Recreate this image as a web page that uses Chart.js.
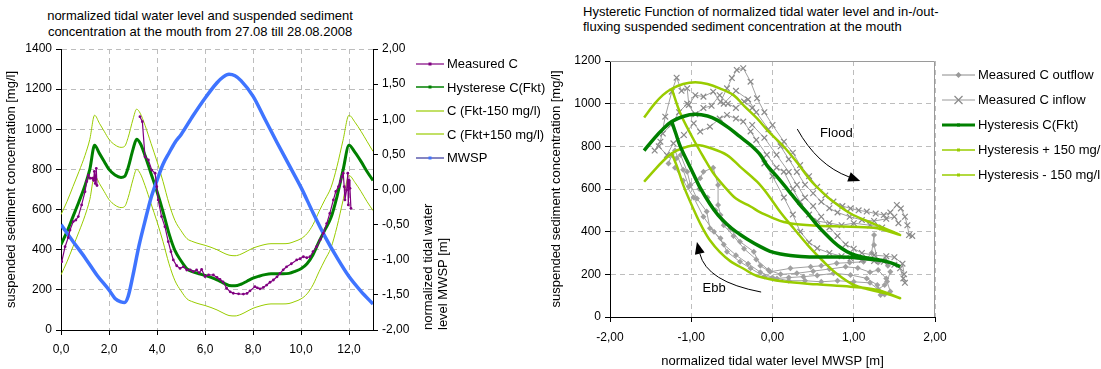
<!DOCTYPE html>
<html>
<head>
<meta charset="utf-8">
<script src="https://cdn.jsdelivr.net/npm/chart.js@4.4.1/dist/chart.umd.min.js"></script>
<style>
  html, body { margin: 0; padding: 0; background: #fff; }
  body { width: 1101px; height: 369px; position: relative; overflow: hidden;
         font-family: "Liberation Sans", Arial, sans-serif; color: #000; }
  canvas { position: absolute; top: 0; }
  #left { left: 0; }
  #right { left: 545px; }
  .title { position: absolute; font-size: 13px; white-space: nowrap; }
  .legend { position: absolute; font-size: 13px; }
  .legend .item { position: absolute; left: 0; white-space: nowrap; height: 15px; line-height: 15px; }
  .legend svg { vertical-align: middle; margin-right: 3px; position: relative; top: -1px; }
  #y1title { position: absolute; left: 420px; top: 330px; transform-origin: 0 0; transform: rotate(-90deg);
             font-size: 13px; line-height: 15px; white-space: nowrap; }
</style>
</head>
<body>
<div class="title" style="left:0;top:8px;width:400px;text-align:center;line-height:16px;">normalized tidal water level and suspended sediment<br>concentration at the mouth from 27.08 till 28.08.2008</div>
<div class="title" style="left:583px;top:4px;line-height:15px;">Hysteretic Function of normalized tidal water level and in-/out-<br>fluxing suspended sediment concentration at the mouth</div>
<canvas id="left" width="545" height="369"></canvas>
<canvas id="right" width="556" height="369"></canvas>
<div id="y1title">normalized tidal water<br>level MWSP [m]</div>
<div class="legend" id="legLeft" style="left:416px;top:56px;"></div>
<div class="legend" id="legRight" style="left:942px;top:67px;width:159px;overflow:hidden;height:125px;"></div>
<script>
// ---- left chart: time series (hours) ----
const measT = [0.03, 0.17, 0.3, 0.375, 0.51, 0.62, 0.72, 0.86, 1.0, 1.07, 1.14, 1.21, 1.31, 1.36, 1.39, 1.43, 1.47, 1.5, 2.4,
  3.29, 3.39, 3.5, 3.64, 3.78, 3.92, 3.99, 4.05, 4.19, 4.33, 4.47, 4.58, 4.68, 4.82, 4.96, 5.1, 5.24, 5.38, 5.51, 5.65,
  5.76, 5.86, 6.0, 6.15, 6.35, 6.5, 6.625, 6.75, 6.9, 7.05, 7.18, 7.4, 7.6, 7.75, 7.875, 8.08, 8.18, 8.29, 8.43, 8.57,
  8.71, 8.85, 9.0, 9.125, 9.26, 9.4, 9.6, 9.82, 9.96, 10.1, 10.24, 10.375, 10.5, 10.65, 10.8, 10.93, 11.07, 11.2, 11.35,
  11.45, 11.56, 11.64, 11.7, 11.76, 11.8, 11.83, 11.9, 11.95, 11.97, 12.0, 12.04, 12.08];
const measC = [340, 415, 460, 498, 540, 548, 565, 623, 689, 740, 772, 756, 756, 745, 790, 730, 805, 720, null,
  1063, 1038, 863, 847, 797, 781, 714, 648, 565, 515, 440, 390, 349, 320, 307, 315, 299, 300, 291, 299,
  285, 302, 266, 275, 274, 262, 252, 240, 208, 190, 183, 180, 179, 182, 195, 216, 210, 205, 212, 224,
  238, 249, 265, 282, 300, 315, 330, 349, 355, 365, 360, 365, 390, 415, 450, 482, 530, 581, 648,
  690, 714, 740, 764, 781, 714, 648, 697, 781, 623, 747, 706, 606];

const hystT = [0, 0.25, 0.5, 0.75, 1.0, 1.2, 1.4, 1.6, 1.8, 2.0, 2.25, 2.5, 2.65, 2.8, 3.0, 3.15, 3.3, 3.5, 3.75, 4.0,
  4.25, 4.5, 4.75, 5.0, 5.25, 5.5, 5.75, 6.0, 6.25, 6.5, 6.75, 7.0, 7.25, 7.5, 7.75, 8.0, 8.25, 8.5, 8.75, 9.0,
  9.25, 9.5, 9.75, 10.0, 10.25, 10.5, 10.75, 11.0, 11.25, 11.5, 11.75, 12.0, 12.25, 12.5, 12.75, 13.0];
const hystC = [425, 490, 565, 640, 720, 800, 920, 880, 840, 800, 772, 760, 765, 810, 900, 950, 930, 870, 780, 690,
  590, 480, 395, 345, 305, 290, 280, 272, 262, 250, 235, 222, 220, 228, 243, 258, 268, 276, 280, 280,
  280, 282, 292, 305, 330, 375, 440, 500, 560, 665, 795, 920, 885, 840, 790, 745];
const bandHiC = [575, 640, 715, 790, 870, 950, 1070, 1030, 990, 950, 922, 910, 915, 960, 1050, 1100, 1080, 1020, 930, 840,
  740, 630, 545, 495, 455, 440, 430, 422, 412, 400, 385, 373, 370, 378, 393, 408, 418, 426, 430, 430,
  430, 432, 442, 455, 480, 525, 590, 650, 710, 815, 945, 1070, 1035, 990, 940, 890];
const bandLoC = [275, 340, 415, 490, 570, 650, 770, 730, 690, 650, 622, 610, 615, 660, 750, 800, 780, 720, 630, 540,
  440, 330, 245, 195, 155, 140, 130, 122, 112, 100, 85, 72, 70, 78, 93, 108, 118, 126, 130, 130,
  130, 132, 142, 155, 180, 225, 290, 350, 410, 515, 645, 770, 735, 690, 640, 595];

const mwspT = [0, 0.5, 1.0, 1.5, 2.0, 2.25, 2.5, 2.65, 2.8, 3.0, 3.25, 3.5, 3.75, 4.0, 4.25, 4.5, 4.75, 5.0, 5.5, 6.0,
  6.5, 6.75, 7.0, 7.25, 7.5, 8.0, 8.5, 9.0, 9.5, 10.0, 10.5, 11.0, 11.5, 12.0, 12.5, 13.0];
const mwspV = [-0.50, -0.74, -0.97, -1.22, -1.43, -1.55, -1.60, -1.61, -1.52, -1.22, -0.80, -0.45, -0.12, 0.13, 0.36, 0.52, 0.67, 0.78, 1.05, 1.30,
  1.52, 1.60, 1.64, 1.62, 1.55, 1.33, 1.00, 0.67, 0.35, 0.03, -0.33, -0.67, -0.97, -1.24, -1.45, -1.63];

// ---- right chart: concentration against water level (null = break in line) ----
const outX = [1.45, 1.41, 1.45, 1.38, 1.33, 1.29, 1.16, 0.96, 0.75, 0.55, 0.38, 0.2, 0.055, -0.1, -0.27, -0.4, -0.56, -0.64,
  -0.77, -0.81, -0.93, -1.01, -1.05, -1.13, -1.18, -1.24, -1.28, null,
  1.42, 1.38, 1.3, 1.25, 1.25, 1.22, 1.12, 0.95, 0.79, 0.6, 0.47, 0.22, -0.03, -0.15, -0.23, -0.4, -0.52, -0.64,
  -0.67, -0.67, -0.73, -0.85, -0.89, -1.03, -1.1, -1.2, null,
  1.4, 1.3, 1.2, 1.05, 0.9, 0.7, 0.5, 0.3, 0.1, -0.05, -0.2, -0.35, -0.48, -0.6, -0.7, -0.8, -0.9, null,
  1.38, 1.3, 1.2, 1.0, 0.8, 0.6, 0.4, 0.2, 0.0, -0.15, -0.3, -0.45, -0.6, -0.72, -0.85, -0.97, -1.1, -1.2];
const outC = [212, 166, 119, 105, 103, 150, 181, 197, 205, 195, 189, 185, 181, 190, 228, 259, 306, 369,
  416, 494, 556, 619, 681, 759, 744, 759, 720, null,
  240, 270, 255, 337, 384, 300, 259, 255, 252, 240, 236, 228, 212, 240, 306, 353, 416, 478,
  525, 619, 700, 681, 650, 611, 690, 780, null,
  180, 220, 210, 230, 235, 225, 215, 205, 200, 220, 270, 320, 380, 430, 500, 560, 600, null,
  150, 130, 160, 165, 170, 165, 170, 170, 185, 210, 250, 290, 340, 400, 470, 560, 640, 700];

const inX = [-1.45, -1.38, -1.32, -1.24, -1.18, -1.12, -1.05, -1.03, -0.95, -0.85, -0.73, -0.64, -0.56, -0.5, -0.44,
  -0.36, -0.27, -0.19, -0.1, 0.0, 0.14, 0.25, 0.34, 0.45, 0.55, 0.65, 0.75, 0.86, 0.96, 1.06, 1.16, 1.27, 1.37,
  1.45, 1.53, 1.58, 1.63, 1.66, 1.68, 1.72, null,
  -1.4, -1.3, -1.22, -1.09, -0.97, -0.89, -0.77, -0.65, -0.56, -0.45, -0.36, -0.27, -0.2, -0.07, 0.05, 0.14, 0.25,
  0.34, 0.45, 0.55, 0.7, 0.85, 1.0, 1.2, 1.35, null,
  -0.1, 0.0, 0.14, 0.25, 0.34, 0.45, 0.55, 0.7, 0.85, 0.96, 1.1, 1.25, 1.37, 1.5, 1.57, 1.61, 1.63, null,
  -0.6, -0.45, -0.3, -0.2, -0.05, 0.1, 0.2, 0.3, 0.4, 0.5, 0.6, 0.7, 0.8, 0.95, 1.1, 1.25, 1.4, 1.5, 1.55, null,
  -0.25, -0.1, 0.05, 0.2, 0.3, 0.4, 0.5, 0.6, 0.7, 0.8, 0.9, 1.0, 1.1, 1.25, 1.4, 1.5, 1.6, 1.62, null,
  -1.35, -1.25, -1.15, -1.05, -0.95, -0.85, -0.75, -0.65, -0.55, -0.45, -0.35, -0.25];
const inC = [780, 822, 939, 1056, 1122, 1060, 1072, 994, 1040, 1033, 1056, 1009, 1072, 1120, 1158,
  1166, 1103, 1025, 960, 900, 822, 770, 712, 660, 610, 570, 541, 520, 509, 500, 494, 485, 478,
  490, 525, 509, 470, 430, 384, 380, null,
  800, 759, 814, 853, 908, 869, 892, 930, 947, 930, 916, 870, 830, 760, 700, 681, 600,
  540, 480, 450, 440, 430, 440, 430, 420, null,
  720, 660, 560, 480, 400, 350, 322, 300, 285, 275, 268, 262, 259, 245, 228, 181, 160, null,
  1000, 1060, 1020, 960, 880, 800, 740, 680, 620, 580, 540, 510, 490, 470, 455, 450, 460, 470, 440, null,
  900, 840, 760, 680, 620, 560, 520, 470, 420, 380, 340, 320, 300, 290, 285, 280, 250, 200, null,
  860, 900, 960, 1000, 950, 980, 990, 1040, 1000, 980, 1010, 980];

const hysX = [-1.58, -1.45, -1.35, -1.24, -1.1, -0.95, -0.8, -0.68, -0.55, -0.40, -0.27, -0.15, -0.07, 0.05, 0.14, 0.24,
  0.34, 0.45, 0.55, 0.65, 0.75, 0.85, 0.96, 1.1, 1.3, 1.45, 1.57,
  1.45, 1.29, 1.1, 0.96, 0.75, 0.55, 0.35, 0.22, 0.1, -0.03, -0.15, -0.31, -0.45, -0.56, -0.67, -0.77, -0.89,
  -0.96, -1.03, -1.135, -1.19, -1.24];
const hysC = [780, 840, 880, 916, 940, 950, 942, 923, 890, 845, 806, 760, 712, 660, 619, 572,
  525, 478, 431, 390, 353, 322, 298, 282, 268, 255, 236,
  255, 267, 275, 280, 281, 281, 284, 288, 295, 308, 330, 365, 400, 435, 478, 530, 605,
  660, 715, 800, 860, 916];

const hiX = [-1.58, -1.45, -1.35, -1.24, -1.1, -0.95, -0.8, -0.65, -0.48, -0.35, -0.19, -0.05, 0.14, 0.3, 0.47,
  0.6, 0.75, 0.96, 1.16, 1.35, 1.57,
  1.29, 0.96, 0.55, 0.3, 0.14, 0, -0.15, -0.27, -0.45, -0.6, -0.73, -0.85, -0.99, -1.135, -1.24];
const hiC = [935, 1000, 1040, 1070, 1092, 1100, 1092, 1072, 1040, 990, 931, 870, 798, 725, 640,
  590, 540, 485, 450, 420, 384,
  416, 423, 428, 435, 445, 465, 490, 518, 555, 615, 675, 750, 845, 955, 1070];

const loX = [-1.58, -1.45, -1.35, -1.24, -1.1, -0.93, -0.75, -0.56, -0.4, -0.19, -0.05, 0.1, 0.26, 0.45, 0.63,
  0.8, 1.0, 1.2, 1.4, 1.57,
  1.29, 0.96, 0.55, 0.14, -0.19, -0.35, -0.52, -0.65, -0.77, -0.85, -0.93, -1.09, -1.17, -1.24];
const loC = [634, 690, 730, 767, 792, 806, 790, 759, 705, 634, 570, 490, 416, 330, 259,
  200, 150, 128, 110, 88,
  127, 142, 153, 166, 192, 225, 262, 305, 360, 410, 470, 610, 700, 767];

// ---- shared setup ----
Chart.defaults.font.family = '"Liberation Sans", Arial, sans-serif';
Chart.defaults.font.size = 12;
Chart.defaults.color = '#000';

const pts = (xs, ys) => xs.map((x, i) => ({ x: x, y: ys[i] }));
const fmt = (d) => (v) => Number(v).toFixed(d).replace('.', ',');
const plain = (v) => String(v);
const gridColor = '#bdbdbd';
const gridDash = [5, 4];
const purple = '#800080', dkGreen = '#008000', ltGreen = '#99cc00', blue = '#3f74ff';

new Chart(document.getElementById('left'), {
  type: 'line',
  data: {
    datasets: [
      { label: 'Measured C', data: pts(measT, measC), yAxisID: 'y', borderColor: purple, backgroundColor: purple,
        borderWidth: 1.2, pointRadius: 1.4, pointBorderWidth: 0, order: 0 },
      { label: 'Hysterese C(Fkt)', data: pts(hystT, hystC), yAxisID: 'y', borderColor: dkGreen, borderWidth: 3,
        pointRadius: 0, cubicInterpolationMode: 'monotone', order: 2 },
      { label: 'C (Fkt-150 mg/l)', data: pts(hystT, bandLoC), yAxisID: 'y', borderColor: ltGreen, borderWidth: 1,
        pointRadius: 0, cubicInterpolationMode: 'monotone', order: 3 },
      { label: 'C (Fkt+150 mg/l)', data: pts(hystT, bandHiC), yAxisID: 'y', borderColor: ltGreen, borderWidth: 1,
        pointRadius: 0, cubicInterpolationMode: 'monotone', order: 4 },
      { label: 'MWSP', data: pts(mwspT, mwspV), yAxisID: 'y1', borderColor: blue, borderWidth: 3.5,
        pointRadius: 0, cubicInterpolationMode: 'monotone', order: 1 }
    ]
  },
  options: {
    responsive: false,
    animation: false,
    layout: { padding: { top: 49, right: 132, bottom: 0, left: 0 } },
    plugins: { legend: { display: false }, tooltip: { enabled: false } },
    scales: {
      x: {
        type: 'linear', min: 0, max: 13,
        ticks: { stepSize: 2, includeBounds: false, callback: fmt(1), padding: 7, maxRotation: 0 },
        grid: { color: gridColor, tickColor: '#000', tickLength: 5 },
        border: { color: '#000', dash: gridDash },
        afterFit: (s) => { s.height = 39; }
      },
      y: {
        position: 'left', min: 0, max: 1400,
        ticks: { stepSize: 200, padding: 4, callback: plain },
        title: { display: true, text: 'suspended sediment concentration [mg/l]', font: { size: 13 }, padding: { top: 4, bottom: 0 } },
        grid: { color: gridColor, tickColor: '#000', tickLength: 5 },
        border: { color: '#000', dash: gridDash },
        afterFit: (s) => { s.width = 61; }
      },
      y1: {
        position: 'right', min: -2, max: 2,
        ticks: { stepSize: 0.5, callback: fmt(2), padding: 4 },
        grid: { drawOnChartArea: false, tickColor: '#000', tickLength: 5 },
        border: { color: '#000' },
        afterFit: (s) => { s.width = 40; }
      }
    }
  }
});

// grey frame on top and right of the plot area
const frame = {
  id: 'frame',
  beforeDatasetsDraw(chart) {
    const { ctx, chartArea: a } = chart;
    ctx.save();
    ctx.strokeStyle = '#9a9a9a';
    ctx.lineWidth = 1;
    ctx.beginPath();
    ctx.moveTo(a.left, a.top + 0.5);
    ctx.lineTo(a.right - 0.5, a.top + 0.5);
    ctx.lineTo(a.right - 0.5, a.bottom);
    ctx.stroke();
    ctx.restore();
  }
};

// Flood / Ebb labels with curved arrows, placed in data units
const notes = {
  id: 'notes',
  afterDatasetsDraw(chart) {
    const { ctx, scales: { x, y } } = chart;
    const P = (a, b) => [x.getPixelForValue(a), y.getPixelForValue(b)];
    const arrow = (from, ctrl, to) => {
      const [x0, y0] = P(from[0], from[1]);
      const [cx, cy] = P(ctrl[0], ctrl[1]);
      const [x1, y1] = P(to[0], to[1]);
      const ang = Math.atan2(y1 - cy, x1 - cx);
      const len = 12, half = 5;
      const bx = x1 - len * Math.cos(ang), by = y1 - len * Math.sin(ang);
      ctx.beginPath();
      ctx.moveTo(x0, y0);
      ctx.quadraticCurveTo(cx, cy, bx, by);
      ctx.stroke();
      ctx.beginPath();
      ctx.moveTo(x1, y1);
      ctx.lineTo(bx + half * Math.sin(ang), by - half * Math.cos(ang));
      ctx.lineTo(bx - half * Math.sin(ang), by + half * Math.cos(ang));
      ctx.closePath();
      ctx.fill();
    };
    ctx.save();
    ctx.strokeStyle = '#000';
    ctx.fillStyle = '#000';
    ctx.lineWidth = 1;
    arrow([0.305, 881], [0.55, 712], [1.08, 637]);
    arrow([-0.14, 117], [-0.81, 165], [-0.93, 352]);
    ctx.font = '13px "Liberation Sans", Arial, sans-serif';
    ctx.textAlign = 'center';
    ctx.textBaseline = 'middle';
    let [tx, ty] = P(0.786, 862);
    ctx.fillText('Flood', tx, ty);
    [tx, ty] = P(-0.718, 136);
    ctx.fillText('Ebb', tx, ty);
    ctx.restore();
  }
};

const grey = '#a0a0a0';
new Chart(document.getElementById('right'), {
  type: 'scatter',
  data: {
    datasets: [
      { label: 'Measured C outflow', data: pts(outX, outC), showLine: true, borderColor: grey, borderWidth: 1,
        pointStyle: 'rectRot', pointRadius: 3, pointBackgroundColor: grey, pointBorderWidth: 0, order: 4 },
      { label: 'Measured C inflow', data: pts(inX, inC), showLine: true, borderColor: grey, borderWidth: 1,
        pointStyle: 'crossRot', pointRadius: 4, pointBorderColor: '#8a8a8a', pointBorderWidth: 1.2, order: 3 },
      { label: 'Hysteresis C(Fkt)', data: pts(hysX, hysC), showLine: true, borderColor: dkGreen, borderWidth: 3.5,
        pointRadius: 0, tension: 0.35, order: 0 },
      { label: 'Hysteresis + 150 mg/l', data: pts(hiX, hiC), showLine: true, borderColor: ltGreen, borderWidth: 2.5,
        pointRadius: 0, tension: 0.35, order: 1 },
      { label: 'Hysteresis - 150 mg/l', data: pts(loX, loC), showLine: true, borderColor: ltGreen, borderWidth: 2.5,
        pointRadius: 0, tension: 0.35, order: 2 }
    ]
  },
  options: {
    responsive: false,
    animation: false,
    layout: { padding: { top: 61, right: 166, bottom: 0, left: 0 } },
    plugins: { legend: { display: false }, tooltip: { enabled: false } },
    scales: {
      x: {
        type: 'linear', min: -2, max: 2,
        ticks: { stepSize: 1, callback: fmt(2), padding: 8, maxRotation: 0 },
        title: { display: true, text: 'normalized tidal water level MWSP [m]', font: { size: 13 }, padding: { top: 4, bottom: 0 } },
        grid: { color: gridColor, tickColor: '#000', tickLength: 5 },
        border: { color: '#000', dash: gridDash },
        afterFit: (s) => { s.height = 52; }
      },
      y: {
        min: 0, max: 1200,
        ticks: { stepSize: 200, padding: 4, callback: plain },
        title: { display: true, text: 'suspended sediment concentration [mg/l]', font: { size: 13 }, padding: { top: 4, bottom: 0 } },
        grid: { color: gridColor, tickColor: '#000', tickLength: 5 },
        border: { color: '#000', dash: gridDash },
        afterFit: (s) => { s.width = 65; }
      }
    }
  },
  plugins: [frame, notes]
});

// ---- HTML legends ----
function swatch(w, color, lw, marker) {
  let m = '';
  const c = w / 2;
  if (marker === 'dot') m = `<rect x="${c - 1.5}" y="3.5" width="3" height="3" fill="${color}"/>`;
  if (marker === 'diamond') m = `<polygon points="${c},2 ${c + 3},5 ${c},8 ${c - 3},5" fill="#999"/>`;
  if (marker === 'x') m = `<path d="M${c - 4} 1 L${c + 4} 9 M${c - 4} 9 L${c + 4} 1" stroke="#8a8a8a" stroke-width="1.2"/>`;
  return `<svg width="${w}" height="10"><line x1="0" y1="5" x2="${w}" y2="5" stroke="${color}" stroke-width="${lw}"/>${m}</svg>`;
}
const legLeft = [
  ['Measured C', purple, 1.2, 'dot'],
  ['Hysterese C(Fkt)', dkGreen, 1.5, 'dot'],
  ['C (Fkt-150 mg/l)', ltGreen, 1.2, ''],
  ['C (Fkt+150 mg/l)', ltGreen, 1.2, ''],
  ['MWSP', '#333399', 1.2, 'blue']
];
document.getElementById('legLeft').innerHTML = legLeft.map((it, i) => {
  let sw = swatch(28, it[1], it[2], it[3]);
  if (it[3] === 'blue') sw = sw.replace('</svg>', `<rect x="12.5" y="3.5" width="3" height="3" fill="${blue}"/></svg>`);
  return `<div class="item" style="top:${(i * 23.6).toFixed(1)}px">${sw}${it[0]}</div>`;
}).join('');
const legRight = [
  ['Measured C outflow', '#8a8a8a', 1, 'diamond'],
  ['Measured C inflow', '#9a9a9a', 1, 'x'],
  ['Hysteresis C(Fkt)', dkGreen, 3, 'dot'],
  ['Hysteresis + 150 mg/l', ltGreen, 1.5, 'dot'],
  ['Hysteresis - 150 mg/l', ltGreen, 1.5, 'dot']
];
document.getElementById('legRight').innerHTML = legRight.map((it, i) =>
  `<div class="item" style="top:${(i * 25).toFixed(1)}px">${swatch(33, it[1], it[2], it[3])}${it[0]}</div>`
).join('');
</script>
</body>
</html>
